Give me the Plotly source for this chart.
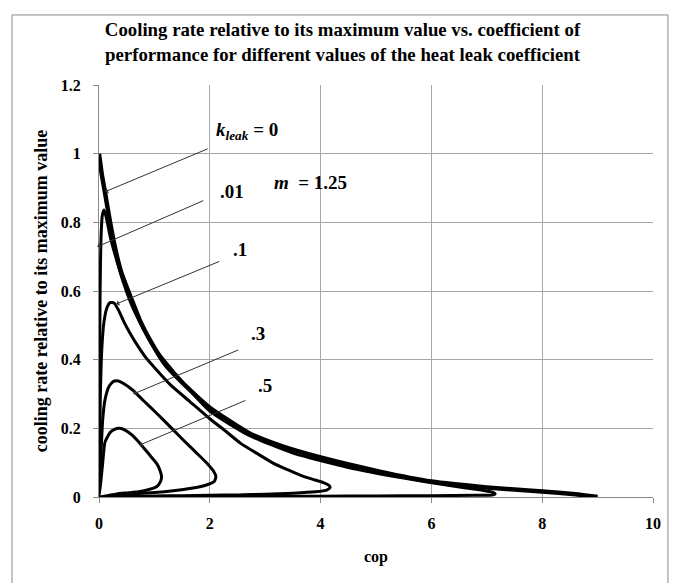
import plotly.graph_objects as go

# ---- data ----
k0_cop = [0, 0.05, 0.11, 0.2, 0.29, 0.4, 0.59, 0.75, 0.92, 1.2, 1.64, 2.0, 2.72, 3.3, 4.0, 5.07, 6.0, 7.0, 8.0, 8.6, 9.0]
k0_val = [1.0, 0.94, 0.885, 0.80, 0.725, 0.655, 0.574, 0.51, 0.457, 0.385, 0.312, 0.26, 0.185, 0.148, 0.115, 0.074, 0.045, 0.028, 0.016, 0.008, 0.0]

k01_cop = [0, 0.01, 0.02, 0.035, 0.06, 0.09, 0.13, 0.2, 0.3, 0.45, 0.6, 0.8, 1.0, 1.4, 2.0, 2.7, 3.5, 4.5, 5.5, 6.3, 6.9, 7.1, 7.15, 7.1, 6.8, 6.0, 5.0, 4.0, 3.0, 2.0, 1.0, 0.4, 0.1, 0]
k01_val = [0, 0.35, 0.6, 0.75, 0.82, 0.836, 0.815, 0.76, 0.70, 0.62, 0.555, 0.49, 0.435, 0.355, 0.25, 0.18, 0.128, 0.086, 0.055, 0.034, 0.02, 0.014, 0.009, 0.006, 0.005, 0.004, 0.003, 0.0025, 0.002, 0.0015, 0.001, 0.0005, 0.0003, 0]

k1_cop = [0, 0.01, 0.025, 0.05, 0.09, 0.14, 0.2, 0.27, 0.35, 0.45, 0.55, 0.7, 0.85, 1.04, 1.3, 1.64, 2.0, 2.3, 2.55, 2.85, 3.15, 3.4, 3.63, 3.85, 4.05, 4.15, 4.17, 4.12, 3.9, 3.5, 3.0, 2.5, 2.0, 1.5, 1.0, 0.5, 0.2, 0]
k1_val = [0, 0.15, 0.3, 0.43, 0.51, 0.55, 0.566, 0.565, 0.545, 0.51, 0.48, 0.44, 0.405, 0.37, 0.325, 0.278, 0.228, 0.19, 0.157, 0.127, 0.098, 0.08, 0.064, 0.052, 0.042, 0.034, 0.027, 0.021, 0.015, 0.011, 0.008, 0.006, 0.005, 0.004, 0.003, 0.002, 0.001, 0]

k3_cop = [0, 0.01, 0.036, 0.066, 0.108, 0.18, 0.26, 0.35, 0.45, 0.62, 0.8, 1.04, 1.3, 1.52, 1.75, 1.94, 2.06, 2.11, 2.08, 1.94, 1.7, 1.34, 1.0, 0.56, 0.25, 0]
k3_val = [0, 0.05, 0.128, 0.224, 0.283, 0.322, 0.337, 0.338, 0.33, 0.31, 0.281, 0.244, 0.202, 0.166, 0.13, 0.1, 0.077, 0.059, 0.045, 0.035, 0.026, 0.018, 0.013, 0.009, 0.005, 0]

k5_cop = [0, 0.01, 0.03, 0.066, 0.108, 0.2, 0.29, 0.37, 0.47, 0.6, 0.74, 0.9, 1.04, 1.1, 1.13, 1.11, 1.04, 0.9, 0.74, 0.5, 0.32, 0.15, 0]
k5_val = [0, 0.015, 0.04, 0.098, 0.16, 0.188, 0.198, 0.2, 0.195, 0.18, 0.156, 0.125, 0.098, 0.078, 0.059, 0.045, 0.03, 0.022, 0.016, 0.012, 0.009, 0.004, 0]

x_ticks = [0, 2, 4, 6, 8, 10]
y_ticks = [0, 0.2, 0.4, 0.6, 0.8, 1, 1.2]

series = [
    (k0_cop, k0_val, 4.5),
    (k01_cop, k01_val, 3),
    (k1_cop, k1_val, 3),
    (k3_cop, k3_val, 3),
    (k5_cop, k5_val, 3),
]

SERIF = "Liberation Serif, Times New Roman, serif"

fig = go.Figure()
for xs, ys, w in series:
    fig.add_trace(go.Scatter(x=xs, y=ys, mode="lines",
                             line=dict(color="black", width=w, shape="spline", smoothing=0.5),
                             showlegend=False, hoverinfo="skip"))

# arrows (tail near label, head on curve)
arrows = [
    ((1.99, 1.016), (0.108, 0.889)),
    ((1.91, 0.865), (-0.03, 0.729)),
    ((2.2, 0.688), (0.31, 0.562)),
    ((2.54, 0.43), (0.62, 0.30)),
    ((2.67, 0.283), (0.73, 0.151)),
]
for (tx, ty), (hx, hy) in arrows:
    fig.add_annotation(x=hx, y=hy, ax=tx, ay=ty, xref="x", yref="y", axref="x", ayref="y",
                       showarrow=True, arrowhead=1, arrowsize=1.0, arrowwidth=1,
                       arrowcolor="#333333", text="")

labels = [
    (2.67, 1.065, "<b><i>k</i><sub><i>leak</i></sub> = 0</b>"),
    (2.4, 0.89, "<b>.01</b>"),
    (2.54, 0.72, "<b>.1</b>"),
    (2.87, 0.475, "<b>.3</b>"),
    (3.0, 0.326, "<b>.5</b>"),
    (3.81, 0.915, "<b><i>m</i>  = 1.25</b>"),
]
for x, y, t in labels:
    fig.add_annotation(x=x, y=y, xref="x", yref="y", text=t, showarrow=False,
                       font=dict(family=SERIF, size=19, color="black"))

# outer chart border
fig.add_shape(type="rect", xref="paper", yref="paper",
              x0=-0.157, x1=1.027, y0=-0.23, y1=1.17,
              line=dict(color="#888888", width=1), fillcolor="rgba(0,0,0,0)", layer="below")

fig.update_layout(
    width=669, height=575,
    margin=dict(l=91, r=24, t=77, b=86, autoexpand=False),
    paper_bgcolor="white", plot_bgcolor="white",
    title=dict(text="<b>Cooling rate relative to its maximum value vs. coefficient of<br>performance for different values of the heat leak coefficient</b>",
               x=0.5, xanchor="center", y=0.951, yanchor="middle",
               font=dict(family=SERIF, size=18.8, color="black")),
    font=dict(family=SERIF, color="black"),
)
fig.update_xaxes(range=[0, 10], tickvals=x_ticks, showgrid=True, gridcolor="#a6a6a6", gridwidth=1,
                 showline=True, linecolor="#888888", mirror=False, zeroline=False, automargin=False,
                 ticks="outside", ticklen=5, tickcolor="#888888", ticklabelstandoff=7,
                 tickfont=dict(family=SERIF, size=16, color="black", weight="bold"),
                 title=dict(text="<b>cop</b>", font=dict(family=SERIF, size=16, color="black"), standoff=19))
fig.update_yaxes(range=[0, 1.2], tickvals=y_ticks, showgrid=True, gridcolor="#a6a6a6", gridwidth=1,
                 showline=True, linecolor="#888888", zeroline=False, automargin=False,
                 ticks="outside", ticklen=5, tickcolor="#888888", ticklabelstandoff=9,
                 tickfont=dict(family=SERIF, size=16, color="black", weight="bold"),
                 title=dict(text="<b>cooling rate relative to its maximum value</b>",
                            font=dict(family=SERIF, size=18, color="black"), standoff=8))

fig.write_html("out.html")
